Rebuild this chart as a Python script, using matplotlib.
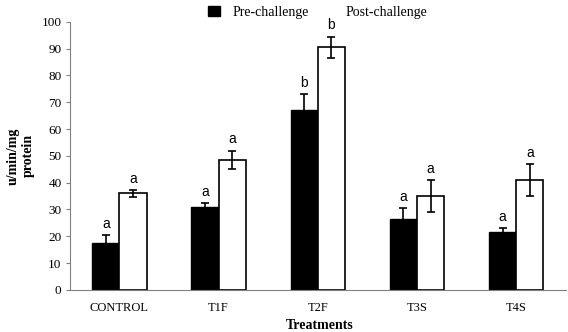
import numpy as np
import matplotlib.pyplot as plt
from matplotlib.patches import Patch

# data
treatments = ['CONTROL', 'T1F', 'T2F', 'T3S', 'T4S']
pre_values = [17.5, 31.0, 67.0, 26.5, 21.5]
pre_errors = [3.0, 1.5, 6.0, 4.0, 1.5]
post_values = [36.0, 48.5, 90.5, 35.0, 41.0]
post_errors = [1.3, 3.5, 4.0, 6.0, 6.0]
pre_letters = ['a', 'a', 'b', 'a', 'a']
post_letters = ['a', 'a', 'b', 'a', 'a']

fig = plt.figure(figsize=(5.68, 3.32), dpi=100)
ax = fig.add_axes([0.123, 0.127, 0.873, 0.807])

x = np.arange(len(treatments))
w = 0.275

ax.bar(x - w / 2, pre_values, w, color='black', edgecolor='black', linewidth=1)
ax.bar(x + w / 2, post_values, w, color='white', edgecolor='black', linewidth=1.2)
ax.errorbar(x - w / 2, pre_values, yerr=pre_errors, fmt='none', ecolor='black',
            elinewidth=1.2, capsize=3, capthick=1.2)
ax.errorbar(x + w / 2, post_values, yerr=post_errors, fmt='none', ecolor='black',
            elinewidth=1.2, capsize=3, capthick=1.2)

# significance letters above the error bars
for xi, v, e, t in zip(x - w / 2, pre_values, pre_errors, pre_letters):
    ax.annotate(t, (xi, v + e), xytext=(0, 3), textcoords='offset points',
                ha='center', va='bottom', fontsize=10, family='Liberation Sans')
for xi, v, e, t in zip(x + w / 2, post_values, post_errors, post_letters):
    ax.annotate(t, (xi, v + e), xytext=(0, 3), textcoords='offset points',
                ha='center', va='bottom', fontsize=10, family='Liberation Sans')

ax.set_xlim(-0.5, len(treatments) - 0.5)
ax.set_ylim(0, 100)
ax.set_yticks(range(0, 101, 10))
ax.set_xticks(x)
ax.set_xticklabels(treatments, family='Liberation Serif', fontsize=9)
for lab in ax.get_yticklabels():
    lab.set_family('Liberation Serif')
    lab.set_fontsize(9.5)
ax.tick_params(axis='x', length=0, pad=9)
ax.tick_params(axis='y', length=3, color='#808080', pad=3)

ax.spines['top'].set_visible(False)
ax.spines['right'].set_visible(False)
ax.spines['left'].set_color('#808080')
ax.spines['bottom'].set_color('#808080')

ax.set_xlabel('Treatments', family='Liberation Serif', fontweight='bold',
              fontsize=10)
ax.set_ylabel('u/min/mg\nprotein', family='Liberation Serif', fontweight='bold',
              fontsize=10)
ax.xaxis.set_label_coords(0.503, -0.11)
ax.yaxis.set_label_coords(-0.07, 0.5)

handles = [Patch(facecolor='black', edgecolor='black'),
           Patch(facecolor='white', edgecolor='white')]
fig.legend(handles, ['Pre-challenge', 'Post-challenge'], loc='upper center',
           bbox_to_anchor=(0.56, 1.02), ncol=2, frameon=False,
           prop={'family': 'Liberation Serif', 'size': 10},
           handlelength=0.8, handleheight=0.8, columnspacing=1.0,
           handletextpad=0.9)

fig.savefig('out.png', dpi=100)
